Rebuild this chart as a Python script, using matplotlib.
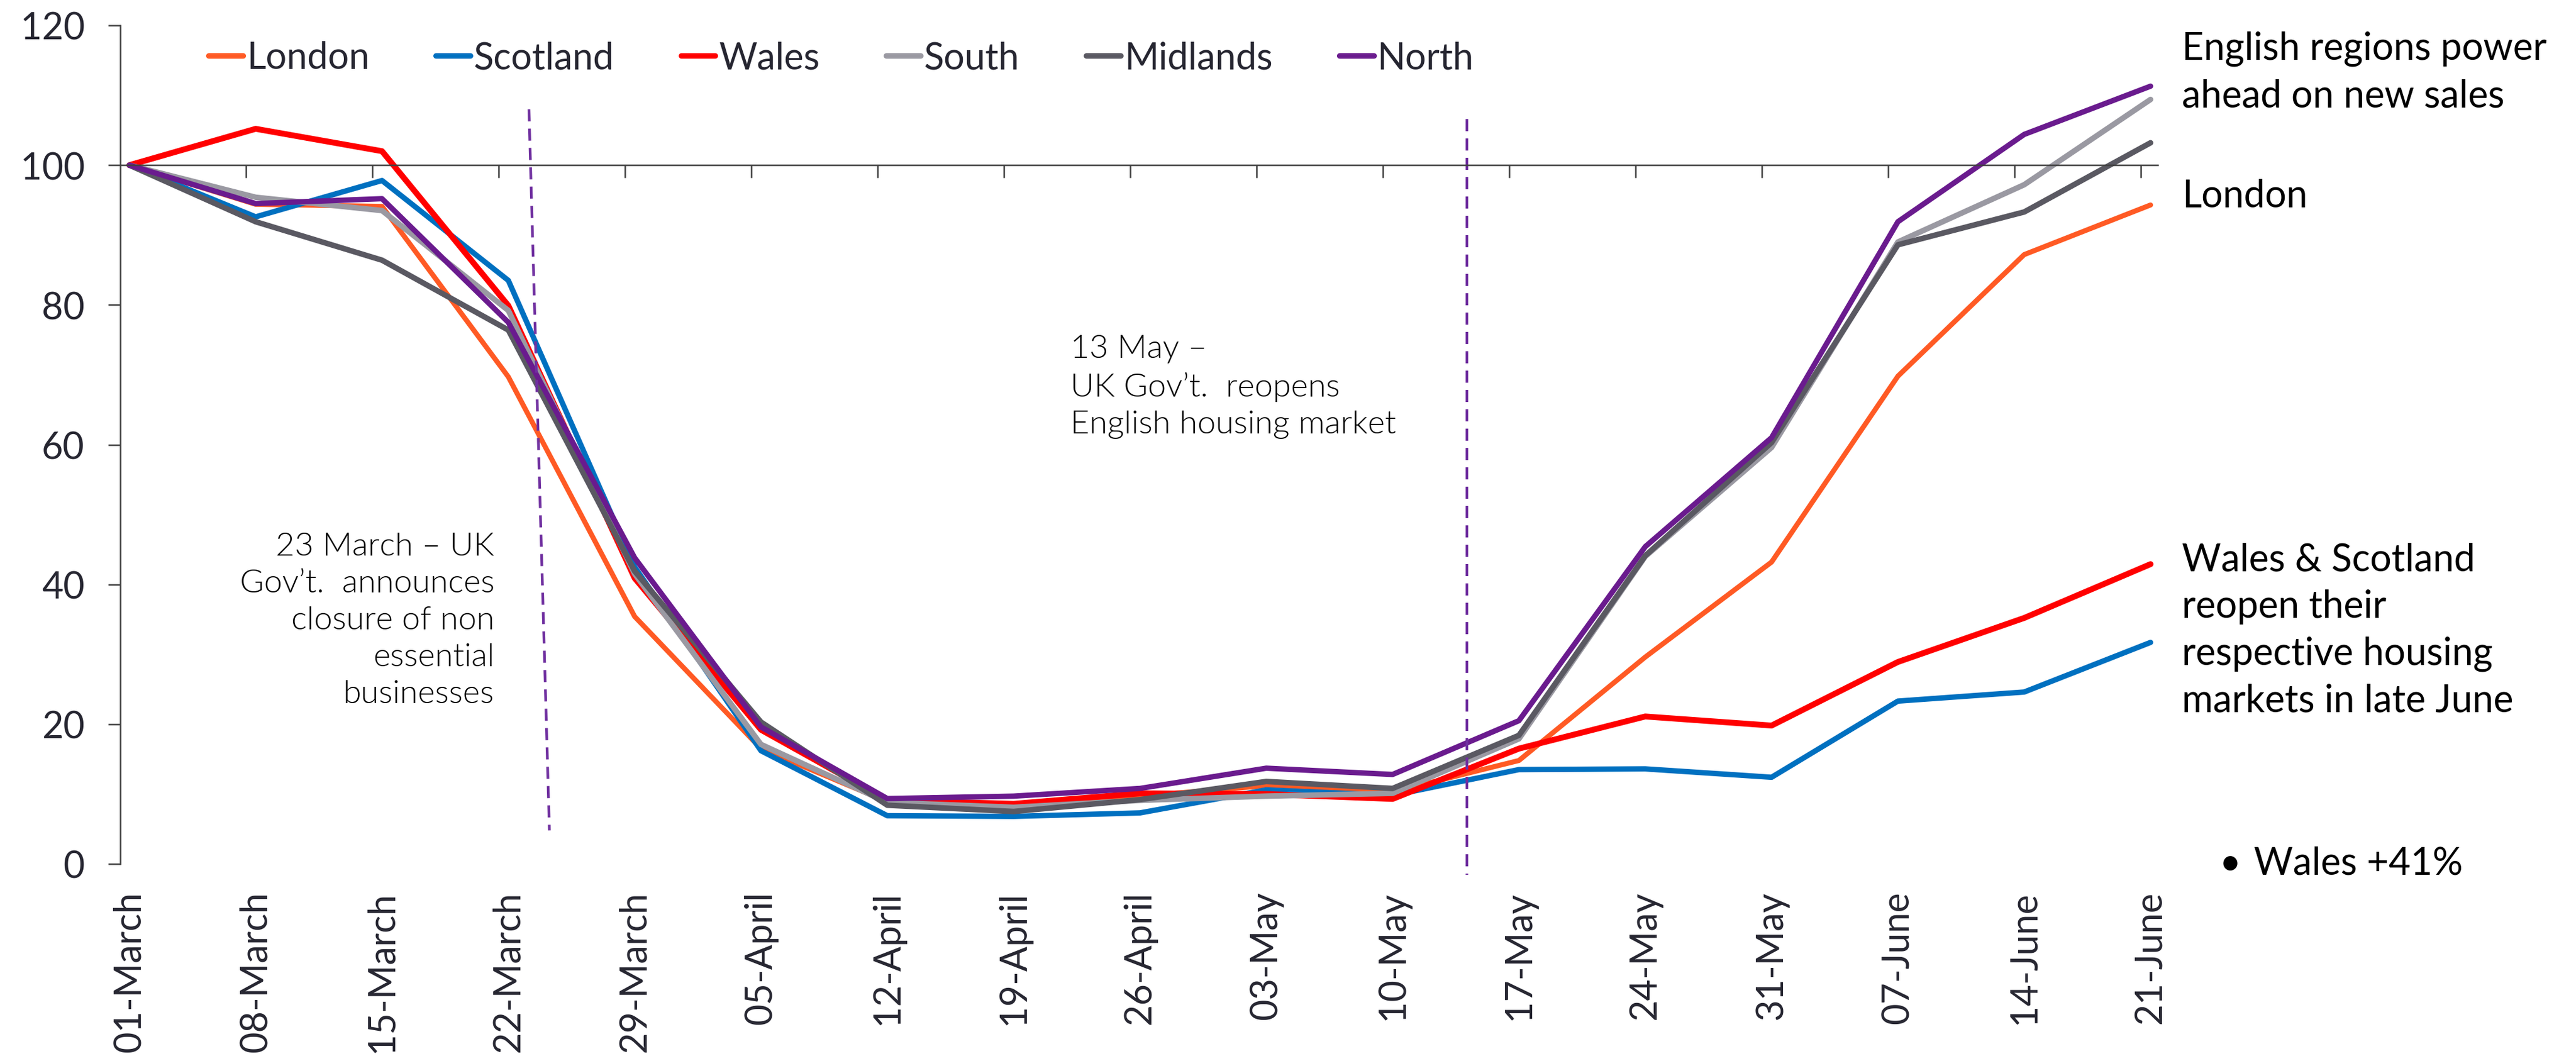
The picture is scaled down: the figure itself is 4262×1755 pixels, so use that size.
import matplotlib
matplotlib.use("Agg")
import matplotlib.pyplot as plt

plt.rcParams['font.family'] = ['Lato', 'DejaVu Sans']

# ---- data -------------------------------------------------------------
dates = ['01-March', '08-March', '15-March', '22-March', '29-March', '05-April',
         '12-April', '19-April', '26-April', '03-May', '10-May', '17-May',
         '24-May', '31-May', '07-June', '14-June', '21-June']

london = [100, 94.4, 94.1, 69.7, 35.4, 16.5, 8.9, 8.3, 9.7, 11.2, 10.3, 14.8,
          29.6, 43.2, 69.8, 87.2, 94.3]
scotland = [100, 92.6, 97.8, 83.5, 42.5, 16.2, 6.9, 6.8, 7.3, 10.6, 9.8, 13.5,
            13.6, 12.4, 23.3, 24.6, 31.7]
wales = [100, 105.2, 102.0, 79.9, 40.9, 19.2, 9.1, 8.6, 10.1, 10.0, 9.3, 16.5,
         21.1, 19.8, 28.9, 35.2, 42.9]
south = [100, 95.4, 93.5, 79.2, 41.5, 17.1, 8.8, 8.1, 9.1, 9.7, 10.1, 17.9,
         44.0, 59.6, 89.0, 97.2, 109.4]
midlands = [100, 91.9, 86.4, 76.4, 41.9, 20.3, 8.4, 7.5, 9.2, 11.8, 10.8, 18.4,
            44.1, 60.3, 88.6, 93.3, 103.2]
north = [100, 94.5, 95.2, 77.5, 43.8, 19.6, 9.35, 9.7, 10.8, 13.7, 12.8, 20.5,
         45.4, 61.0, 91.9, 104.4, 111.3]

series_names = ['London', 'Scotland', 'Wales', 'South', 'Midlands', 'North']
series_values = [london, scotland, wales, south, midlands, north]
series_colors = ['#FF5A24', '#0070C0', '#FF0000', '#9A99A2', '#5A5962', '#6A1B8E']
series_widths = [3.0, 3.2, 3.5, 3.3, 3.3, 3.2]

yticks = [0, 20, 40, 60, 80, 100, 120]

# event marker lines (x in category units, y in index units)
lockdown_x = [3.163, 3.325]
lockdown_y = [108.0, 4.8]
reopen_x = [10.59, 10.59]
reopen_y = [106.6, -1.6]

# ---- figure -----------------------------------------------------------
W, H, DPI = 4262, 1756, 200
fig = plt.figure(figsize=(W / DPI, H / DPI), dpi=DPI)


def fx(px):
    return px / W


def fy(py):
    return 1 - py / H


ax = fig.add_axes([fx(199), fy(1430), fx(3570) - fx(199), fy(43) - fy(1430)])
xpos = list(range(len(dates)))

for name, vals, col, lw in zip(series_names, series_values, series_colors, series_widths):
    ax.plot(xpos, vals, color=col, lw=lw, label=name,
            solid_capstyle='round', solid_joinstyle='round')

dash_col = '#7030A0'
ax.plot(lockdown_x, lockdown_y, color=dash_col, lw=1.6, dashes=(4.5, 2.7), clip_on=False)
ax.plot(reopen_x, reopen_y, color=dash_col, lw=1.6, dashes=(4.5, 2.7), clip_on=False)

ax.set_xlim(-0.072, 16.057)
ax.set_ylim(0, 120)

axis_col = '#404040'
text_col = '#262631'
for s in ['top', 'right']:
    ax.spines[s].set_visible(False)
ax.spines['left'].set_color(axis_col)
ax.spines['left'].set_linewidth(0.9)
ax.spines['bottom'].set_position(('data', 100))
ax.spines['bottom'].set_color(axis_col)
ax.spines['bottom'].set_linewidth(0.9)

ax.set_xticks([i - 0.077 for i in xpos[1:]])
ax.tick_params(axis='x', direction='out', length=7.5, width=0.9, color=axis_col,
               labelbottom=False)
ax.set_yticks(yticks)
ax.set_yticklabels([str(v) for v in yticks])
ax.tick_params(axis='y', direction='out', length=7.2, width=0.9, color=axis_col,
               pad=14, labelsize=22, labelcolor=text_col)

# category labels at the bottom
ax2 = ax.twiny()
ax2.set_xlim(ax.get_xlim())
ax2.xaxis.set_ticks_position('bottom')
ax2.xaxis.set_label_position('bottom')
ax2.set_xticks(xpos)
ax2.set_xticklabels(dates, rotation=90, fontsize=22, color=text_col)
ax2.tick_params(axis='x', length=0, pad=16)
for s in ax2.spines.values():
    s.set_visible(False)

# legend
handles, labels = ax.get_legend_handles_labels()
leg = ax.legend(handles[:6], labels[:6], loc='center left',
                bbox_to_anchor=(fx(345), fy(97)), bbox_transform=fig.transFigure,
                ncol=6, frameon=False, handlelength=0.93, handletextpad=0.1,
                columnspacing=1.8, borderpad=0, borderaxespad=0, fontsize=22)
for t in leg.get_texts():
    t.set_color(text_col)
for l in leg.get_lines():
    l.set_linewidth(3.3)
    l.set_solid_capstyle('round')

# annotations on the right (va='baseline' aligns the LAST line's baseline)
fig.text(fx(3610), fy(177), 'English regions power\nahead on new sales',
         fontsize=22.5, color='black', ha='left', va='baseline', linespacing=1.42)
fig.text(fx(3610), fy(343), 'London', fontsize=22.5, color='black',
         ha='left', va='baseline')
fig.text(fx(3610), fy(1178),
         'Wales & Scotland\nreopen their\nrespective housing\nmarkets in late June',
         fontsize=22.5, color='black', ha='left', va='baseline', linespacing=1.42)
fig.text(fx(3672), fy(1447), '•', fontsize=22.5, color='black', ha='left', va='baseline')
fig.text(fx(3729), fy(1447), 'Wales +41%', fontsize=22.5, color='black',
         ha='left', va='baseline')

# annotations inside the chart
fig.text(fx(818), fy(1163),
         '23 March – UK\nGov’t.  announces\nclosure of non\nessential\nbusinesses',
         fontsize=19.5, fontweight=300, color='black', ha='right',
         multialignment='right', va='baseline', linespacing=1.37)
fig.text(fx(1771), fy(717),
         '13 May –\nUK Gov’t.  reopens\nEnglish housing market',
         fontsize=19.5, fontweight=300, color='black', ha='left',
         va='baseline', linespacing=1.37)

fig.savefig('out.png', dpi=DPI)
